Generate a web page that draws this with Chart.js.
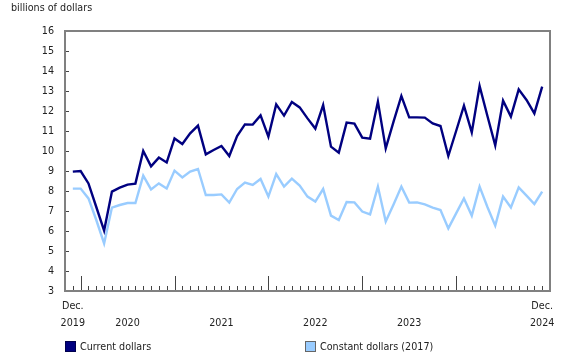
<!DOCTYPE html>
<html>
<head>
<meta charset="utf-8">
<script src="https://cdn.jsdelivr.net/npm/chart.js@4/dist/chart.umd.min.js"></script>
<style>
  html, body { margin: 0; padding: 0; background: #fff; }
  #wrap { position: relative; width: 580px; height: 360px; font-family: "DejaVu Sans", Verdana, sans-serif; color: #222; }
  #c { position: absolute; left: 0; top: 0; }
  .ytitle { position: absolute; left: 11px; top: 2px; font-size: 9.6px; }
  .leg { position: absolute; top: 341px; font-size: 9.6px; display: flex; align-items: center; }
  .sw { width: 11px; height: 11px; box-sizing: border-box; margin-right: 4px; }
</style>
</head>
<body>
<div id="wrap">
  <canvas id="c" width="580" height="360"></canvas>
  <div class="ytitle">billions of dollars</div>
  <div class="leg" style="left:65px;"><div class="sw" style="background:#000080;border:1px solid #00004d;"></div>Current dollars</div>
  <div class="leg" style="left:305px;"><div class="sw" style="background:#99ccff;border:1px solid #666;"></div>Constant dollars (2017)</div>
</div>
<script>
const months = [
  '2019-12',
  '2020-01','2020-02','2020-03','2020-04','2020-05','2020-06','2020-07','2020-08','2020-09','2020-10','2020-11','2020-12',
  '2021-01','2021-02','2021-03','2021-04','2021-05','2021-06','2021-07','2021-08','2021-09','2021-10','2021-11','2021-12',
  '2022-01','2022-02','2022-03','2022-04','2022-05','2022-06','2022-07','2022-08','2022-09','2022-10','2022-11','2022-12',
  '2023-01','2023-02','2023-03','2023-04','2023-05','2023-06','2023-07','2023-08','2023-09','2023-10','2023-11','2023-12',
  '2024-01','2024-02','2024-03','2024-04','2024-05','2024-06','2024-07','2024-08','2024-09','2024-10','2024-11','2024-12'
];

const currentDollars = [
  8.97, 9.0, 8.38, 7.2, 6.02, 7.97, 8.17, 8.32, 8.37, 10.0,
  9.23, 9.67, 9.43, 10.63, 10.35, 10.88, 11.27, 9.83, 10.05, 10.25,
  9.75, 10.75, 11.33, 11.32, 11.78, 10.72, 12.33, 11.77, 12.45, 12.18,
  11.63, 11.12, 12.3, 10.22, 9.92, 11.42, 11.37, 10.67, 10.62, 12.47,
  10.13, 11.47, 12.75, 11.68, 11.68, 11.67, 11.38, 11.25, 9.75, 11.0,
  12.27, 10.93, 13.25, 11.75, 10.28, 12.52, 11.72, 13.08, 12.55, 11.88, 13.22
];

const constantDollars = [
  8.12, 8.12, 7.63, 6.55, 5.38, 7.17, 7.3, 7.4, 7.4, 8.77,
  8.08, 8.38, 8.13, 9.02, 8.68, 8.97, 9.1, 7.8, 7.8, 7.83,
  7.42, 8.1, 8.42, 8.3, 8.6, 7.72, 8.85, 8.22, 8.62, 8.27,
  7.72, 7.47, 8.1, 6.77, 6.55, 7.45, 7.43, 6.97, 6.83, 8.22,
  6.47, 7.33, 8.22, 7.42, 7.43, 7.33, 7.17, 7.05, 6.13, 6.88,
  7.63, 6.77, 8.22, 7.2, 6.27, 7.72, 7.18, 8.18, 7.77, 7.35, 7.97
];

const xLabelMonths = ['2019-12', '2020-07', '2021-07', '2022-07', '2023-07', '2024-12'];
const xLabelTexts = [['Dec.', '2019'], ['', '2020'], ['', '2021'], ['', '2022'], ['', '2023'], ['Dec.', '2024']];

const yMin = 3, yMax = 16;

const FONT = { family: '"DejaVu Sans", Verdana, sans-serif', size: 9.6, lineHeight: 1.75 };
const AXIS_COLOR = '#808080';
const TICK_COLOR = '#444';

const toPoints = arr => arr.map((v, i) => ({ x: i, y: v }));

const framePlugin = {
  id: 'frame',
  afterDatasetsDraw(chart) {
    const { ctx, chartArea: a, scales: { x, y } } = chart;
    ctx.save();
    ctx.strokeStyle = TICK_COLOR;
    ctx.lineWidth = 1;
    ctx.beginPath();
    months.forEach((m, i) => {
      const px = Math.round(x.getPixelForValue(i)) + 0.5;
      const len = m.endsWith('-01') ? 15 : 5;
      ctx.moveTo(px, a.bottom);
      ctx.lineTo(px, a.bottom - len);
    });
    for (let v = yMin + 1; v < yMax; v++) {
      const py = Math.round(y.getPixelForValue(v)) + 0.5;
      ctx.moveTo(a.left, py);
      ctx.lineTo(a.left + 4, py);
    }
    ctx.stroke();
    ctx.strokeStyle = AXIS_COLOR;
    ctx.lineWidth = 2;
    ctx.strokeRect(a.left, a.top, a.right - a.left, a.bottom - a.top);
    ctx.restore();
  }
};

new Chart(document.getElementById('c'), {
  type: 'line',
  data: {
    datasets: [
      { label: 'Current dollars', data: toPoints(currentDollars), borderColor: '#000080', backgroundColor: '#000080', borderWidth: 2.4, pointRadius: 0, tension: 0 },
      { label: 'Constant dollars (2017)', data: toPoints(constantDollars), borderColor: '#99ccff', backgroundColor: '#99ccff', borderWidth: 2.4, pointRadius: 0, tension: 0 }
    ]
  },
  options: {
    responsive: false,
    animation: false,
    devicePixelRatio: 1,
    layout: { padding: { top: 31, right: 30, left: 0, bottom: 0 } },
    plugins: { legend: { display: false }, tooltip: { enabled: false }, title: { display: false } },
    scales: {
      x: {
        type: 'linear',
        min: -1,
        max: months.length,
        grid: { display: false, drawTicks: false },
        border: { display: false },
        afterFit(s) { s.height = 69; },
        afterBuildTicks(s) {
          s.ticks = xLabelMonths.map(m => ({ value: months.indexOf(m) }));
        },
        ticks: {
          autoSkip: false,
          maxRotation: 0,
          padding: 7,
          color: '#222',
          font: FONT,
          callback(v) {
            const k = xLabelMonths.findIndex(m => months.indexOf(m) === v);
            return k >= 0 ? xLabelTexts[k] : '';
          }
        }
      },
      y: {
        min: yMin,
        max: yMax,
        grid: { display: false, drawTicks: false },
        border: { display: false },
        afterFit(s) { s.width = 65; },
        ticks: { stepSize: 1, padding: 11, color: '#222', font: { family: FONT.family, size: 9.6 } }
      }
    }
  },
  plugins: [framePlugin]
});
</script>
</body>
</html>
